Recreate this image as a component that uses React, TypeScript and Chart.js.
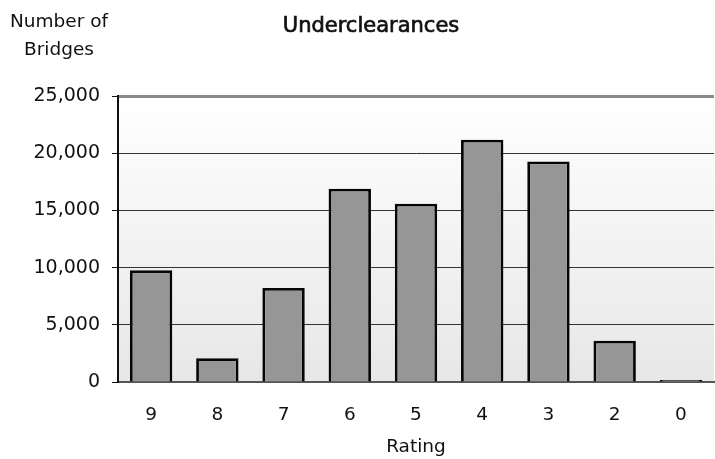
import React, { useEffect, useRef } from "react";
import { Chart, registerables } from "chart.js";

Chart.register(...registerables);

const categories = ["9", "8", "7", "6", "5", "4", "3", "2", "0"];
const bridgeCounts = [9760, 2080, 8220, 16900, 15590, 21170, 19270, 3600, 170];
const yTickValues = [0, 5000, 10000, 15000, 20000, 25000];
const chartTitle = "Underclearances";
const yTitleLines = ["Number of", "Bridges"];
const xTitle = "Rating";

const FONT = "'DejaVu Sans', 'Noto Sans', sans-serif";

const decorPlugin = {
  id: "decor",
  beforeDraw(chart: any) {
    const { ctx, chartArea } = chart;
    const g = ctx.createLinearGradient(0, chartArea.top, 0, chartArea.bottom);
    g.addColorStop(0, "#ffffff");
    g.addColorStop(1, "#e7e7e7");
    ctx.save();
    ctx.fillStyle = "#ffffff";
    ctx.fillRect(0, 0, chart.width, chart.height);
    ctx.fillStyle = g;
    ctx.fillRect(chartArea.left, chartArea.top, chartArea.right - chartArea.left, chartArea.bottom - chartArea.top);
    ctx.restore();
  },
  afterDraw(chart: any) {
    const { ctx, chartArea } = chart;
    ctx.save();
    ctx.fillStyle = "#111111";
    ctx.strokeStyle = "#111111";
    ctx.textAlign = "center";
    ctx.textBaseline = "alphabetic";
    ctx.font = `21px ${FONT}`;
    ctx.lineWidth = 0.7;
    ctx.fillText(chartTitle, 371, 32);
    ctx.strokeText(chartTitle, 371, 32);
    ctx.font = `18.5px ${FONT}`;
    ctx.fillText(yTitleLines[0], 59, 27);
    ctx.fillText(yTitleLines[1], 59, 55);
    ctx.fillText(xTitle, (chartArea.left + chartArea.right) / 2, 452);
    ctx.restore();
  },
};

export default function App() {
  const ref = useRef<HTMLCanvasElement>(null);
  useEffect(() => {
    document.body.style.margin = "0";
    const canvas = ref.current!;
    const chart = new Chart(canvas, {
      type: "bar",
      data: {
        labels: categories,
        datasets: [
          {
            data: bridgeCounts,
            backgroundColor: "#969696",
            borderColor: "#050505",
            borderWidth: 2.8,
            barPercentage: 0.64,
            categoryPercentage: 1,
          },
        ],
      },
      options: {
        responsive: false,
        animation: false,
        devicePixelRatio: 1,
        layout: { padding: { top: 96, right: 1, left: 0, bottom: 0 } },
        plugins: {
          legend: { display: false },
          title: { display: false },
          tooltip: { enabled: false },
        },
        scales: {
          x: {
            grid: { display: false, drawTicks: false },
            border: { color: "#555555", width: 2 },
            ticks: { color: "#111111", font: { family: FONT, size: 18.5 }, padding: 22 },
            afterFit(scale: any) {
              scale.height = 77;
            },
          },
          y: {
            min: 0,
            max: 25000,
            afterBuildTicks(scale: any) {
              scale.ticks = yTickValues.map((v) => ({ value: v }));
            },
            grid: {
              color: (c: any) => (c.tick && c.tick.value === 25000 ? "#8a8a8a" : "#333333"),
              lineWidth: (c: any) => (c.tick && c.tick.value === 25000 ? 3 : 1),
              tickColor: "#111111",
              tickLength: 6,
              tickWidth: 1,
            },
            border: { color: "#111111", width: 2 },
            ticks: {
              color: "#111111",
              font: { family: FONT, size: 19 },
              padding: 12,
              callback: (v: any) => Number(v).toLocaleString("en-US"),
            },
            afterFit(scale: any) {
              scale.width = 118;
            },
          },
        },
      },
      plugins: [decorPlugin],
    });
    return () => chart.destroy();
  }, []);
  return <canvas ref={ref} width={715} height={459} style={{ display: "block" }} />;
}
